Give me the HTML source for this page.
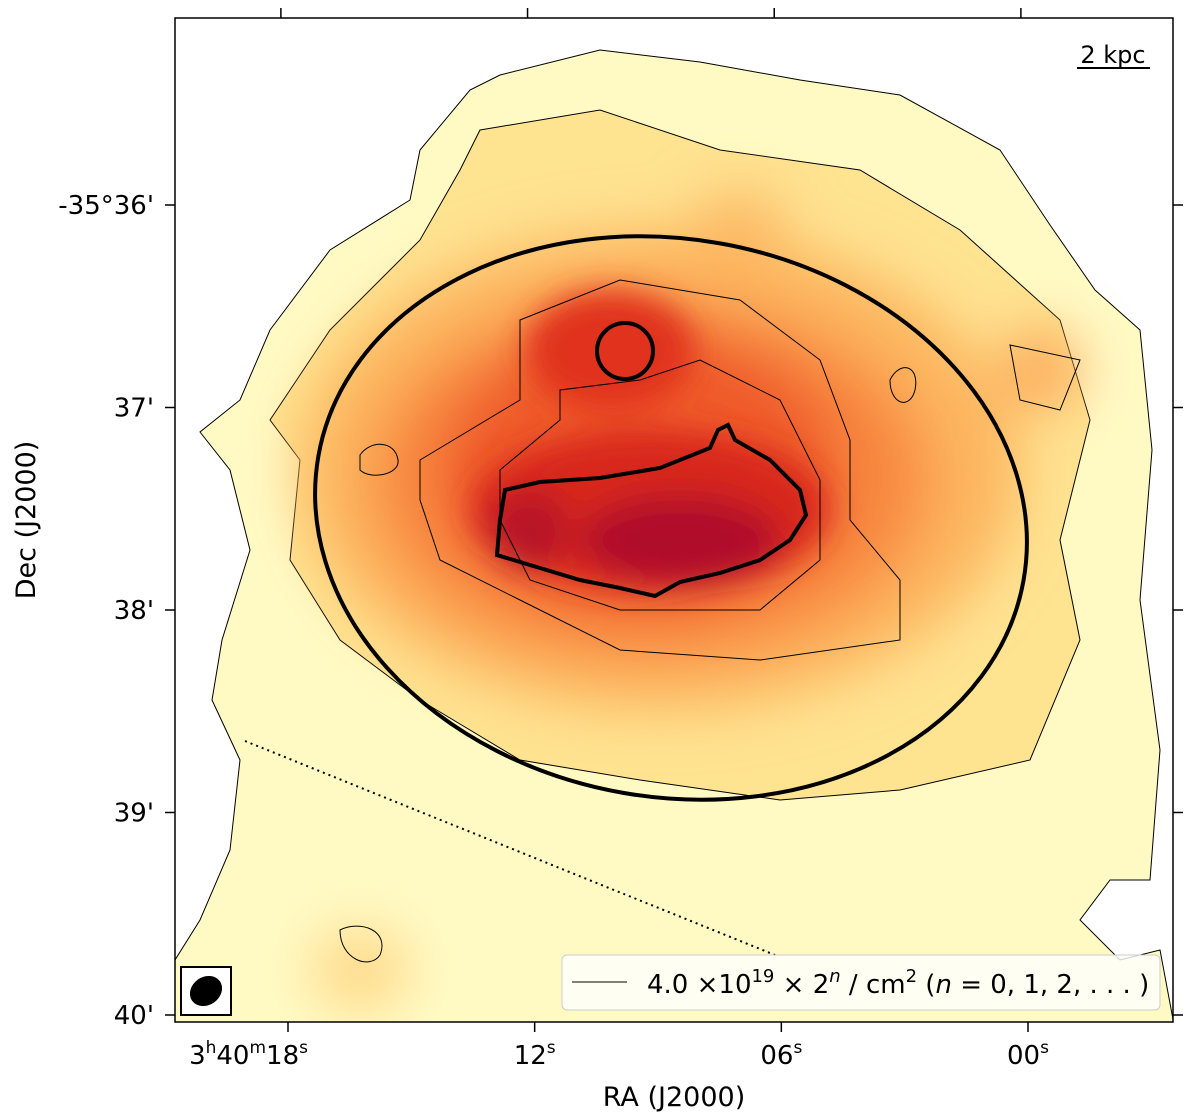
<!DOCTYPE html>
<html><head><meta charset="utf-8"><style>
html,body{margin:0;padding:0;background:#fff;}
svg{display:block;font-family:"DejaVu Sans","Liberation Sans",sans-serif;}
</style></head><body>
<svg id="chart" width="1200" height="1117" viewBox="0 0 1200 1117">
<defs>
<filter id="b1" x="-30%" y="-30%" width="160%" height="160%"><feGaussianBlur stdDeviation="28"/></filter>
<filter id="b2" x="-30%" y="-30%" width="160%" height="160%"><feGaussianBlur stdDeviation="16"/></filter>
<clipPath id="frameclip"><rect x="175" y="18" width="998" height="1004"/></clipPath>
</defs>
<g clip-path="url(#frameclip)">
  <path fill="#fffac4" stroke="#000" stroke-width="1"
   d="M500,75 L600,50 L700,62 L800,80 L900,95 L1000,150 L1050,225 L1095,290 L1140,330 L1152,450 L1140,600 L1160,750 L1150,880 L1110,880 L1080,920 L1120,960 L1160,950 L1175,1030 L175,1030 L175,960 L200,920 L230,850 L240,760 L212,700 L222,640 L250,550 L230,470 L200,432 L240,400 L270,330 L330,250 L410,200 L420,150 L470,90 Z"/>
  <path fill="#fee391" stroke="#000" stroke-width="1"
   d="M480,130 L600,110 L720,150 L860,170 L960,230 L1060,320 L1090,420 L1060,540 L1080,640 L1030,760 L900,790 L780,800 L640,780 L520,760 L420,700 L340,640 L290,560 L300,460 L270,420 L330,330 L420,240 L460,170 Z"/>
  <g filter="url(#b1)">
    <ellipse cx="660" cy="470" rx="360" ry="240" fill="#fdb55e"/>
    <ellipse cx="650" cy="480" rx="280" ry="180" fill="#f8883f"/>
    <ellipse cx="640" cy="470" rx="200" ry="140" fill="#ef5a2c"/>
    <ellipse cx="1040" cy="370" rx="40" ry="40" fill="#fca85a"/>
    <ellipse cx="740" cy="220" rx="45" ry="28" fill="#fdb865"/>
    <ellipse cx="360" cy="970" rx="50" ry="40" fill="#fed887"/>
  </g>
  <g filter="url(#b2)">
    <ellipse cx="610" cy="350" rx="85" ry="60" fill="#e0321f"/>
    <ellipse cx="650" cy="510" rx="180" ry="80" fill="#d8261f"/>
    <ellipse cx="680" cy="540" rx="100" ry="45" fill="#b0102a"/>
    <ellipse cx="530" cy="530" rx="40" ry="40" fill="#b81628"/>
  </g>
  <path fill="none" stroke="#000" stroke-width="1"
   d="M420,460 L520,400 L520,320 L620,280 L740,300 L820,360 L850,440 L850,520 L900,580 L900,640 L760,660 L620,650 L520,600 L440,560 L420,500 Z"/>
  <path fill="none" stroke="#000" stroke-width="1"
   d="M500,470 L560,420 L560,390 L640,380 L700,360 L780,400 L820,480 L820,560 L760,610 L620,610 L530,580 L500,520 Z"/>
  <path fill="none" stroke="#000" stroke-width="1" d="M360,455 C370,440 395,440 398,460 C400,475 370,480 360,470 Z"/>
  <path fill="none" stroke="#000" stroke-width="1" d="M890,380 C900,360 920,365 915,390 C910,410 890,405 890,380 Z"/>
  <path fill="none" stroke="#000" stroke-width="1" d="M1010,345 L1080,360 L1060,410 L1020,400 Z"/>
  <path fill="none" stroke="#000" stroke-width="1" d="M340,930 C360,920 390,930 380,955 C370,970 340,960 340,930 Z"/>
</g>
<ellipse cx="671" cy="518" rx="358" ry="279" transform="rotate(10 671 518)" fill="none" stroke="#000" stroke-width="4"/>
<circle cx="625" cy="351" r="28" fill="none" stroke="#000" stroke-width="4"/>
<path fill="none" stroke="#000" stroke-width="4"
 d="M505,490 L540,482 L600,478 L660,468 L710,448 L718,430 L728,425 L735,440 L770,460 L800,490 L806,515 L790,540 L760,560 L720,573 L680,582 L655,596 L620,588 L580,580 L530,565 L497,555 L500,520 Z"/>
<line x1="245" y1="741" x2="775" y2="955" stroke="#000" stroke-width="2" stroke-dasharray="2,4"/>
<rect x="175" y="18" width="998" height="1004" fill="none" stroke="#000" stroke-width="1.5"/>
<g id="axes"></g>
<text x="1113" y="63" font-size="24" text-anchor="middle">2 kpc</text>
<line x1="1077" y1="68" x2="1150" y2="68" stroke="#000" stroke-width="2"/>
<g>
  <rect x="562" y="955" width="598" height="55" rx="5" fill="#fff" fill-opacity="0.8" stroke="#ccc"/>
  <line x1="572" y1="982" x2="627" y2="982" stroke="#000" stroke-width="1"/>
  <text x="647" y="993" font-size="26">4.0 ×10<tspan font-size="18" dy="-11">19</tspan><tspan dy="11"> × 2</tspan><tspan font-size="18" dy="-11" font-style="italic">n</tspan><tspan dy="11"> / cm</tspan><tspan font-size="18" dy="-11">2</tspan><tspan dy="11"> (</tspan><tspan font-style="italic">n</tspan><tspan> = 0, 1, 2, . . . )</tspan></text>
</g>
<g>
  <rect x="181" y="967" width="50" height="48" fill="#fff" stroke="#000" stroke-width="2"/>
  <ellipse cx="206" cy="991" rx="17" ry="14" transform="rotate(-35 206 991)" fill="#000"/>
</g>
<text x="674" y="1106" font-size="27" text-anchor="middle">RA (J2000)</text>
<text x="35" y="520" font-size="27" text-anchor="middle" transform="rotate(-90 35 520)">Dec (J2000)</text>
</svg>
<script>
const decValues = [36, 37, 38, 39, 40];
const decLabels = ["-35°36'", "37'", "38'", "39'", "40'"];
const raValues = [18, 12, 6, 0];
const raLabels = ["18", "12", "06", "00"];
const topTickValues = [18.1, 12.1, 6.1, 0.1];
function yDec(d){ return 205 + (d - 36) * 202.5; }
function xRA(s){ return 1028 - s * (1028 - 288) / 18; }
const g = document.getElementById('axes');
const NS = 'http://www.w3.org/2000/svg';
function mk(tag, attrs){ const e = document.createElementNS(NS, tag); for (const k in attrs) e.setAttribute(k, attrs[k]); g.appendChild(e); return e; }
decValues.forEach((d, i) => {
  const y = yDec(d);
  const t = mk('line', {x1:165, y1:y, x2:175, y2:y, stroke:'#000', 'stroke-width':1.5});
  
  
  const t2 = mk('line', {x1:1173, y1:y, x2:1183, y2:y, stroke:'#000', 'stroke-width':1.5});
  
  
  const l = mk('text', {x:154, y:y + 9, 'font-size':26, 'text-anchor':'end'});
  l.textContent = decLabels[i];
  
  
});
raValues.forEach((s, i) => {
  const x = xRA(s);
  const t = mk('line', {x1:x, y1:1022, x2:x, y2:1032, stroke:'#000', 'stroke-width':1.5});
  
  
  const l = mk('text', {x:x, y:1064, 'font-size':26, 'text-anchor':'middle'});
  
  
  if (i === 0) {
    l.setAttribute('text-anchor', 'end');
    l.setAttribute('x', x + 20);
    l.innerHTML = '3<tspan font-size="17" dy="-11">h</tspan><tspan dy="11">40</tspan><tspan font-size="17" dy="-11">m</tspan><tspan dy="11">18</tspan><tspan font-size="17" dy="-11">s</tspan>';
  } else {
    l.innerHTML = raLabels[i] + '<tspan font-size="17" dy="-11">s</tspan>';
  }
});
topTickValues.forEach(s => {
  const x = xRA(s) - 3;
  const t = mk('line', {x1:x, y1:8, x2:x, y2:18, stroke:'#000', 'stroke-width':1.5});
  
  
});
</script>
</body></html>
